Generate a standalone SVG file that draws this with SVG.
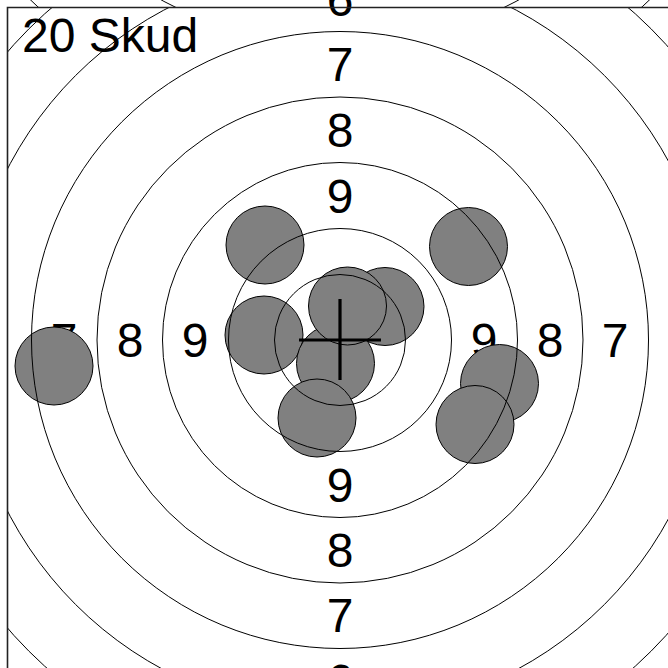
<svg xmlns="http://www.w3.org/2000/svg" width="668" height="668" viewBox="0 0 668 668">
<defs>
<style>
.lbl{font-family:"Liberation Sans",Arial,sans-serif;font-size:48px;fill:#000;text-anchor:middle}
.title{font-family:"Liberation Sans",Arial,sans-serif;font-size:48px;fill:#000}
.shot{fill:#808080;stroke:#000;stroke-width:1}
.ring{fill:none;stroke:#000;stroke-width:1}
.cross{stroke:#000;stroke-width:3.2;fill:none}
</style>
<clipPath id="topstrip"><rect x="0" y="0" width="668" height="7.5"/></clipPath>
<clipPath id="field"><rect x="7.5" y="7.5" width="661" height="661"/></clipPath>
</defs>
<rect width="668" height="668" fill="#fff"/>
<g id="labels">
<text class="title" x="22" y="52">20 Skud</text>
<text class="lbl" x="340" y="16">6</text>
<text class="lbl" x="340" y="81">7</text>
<text class="lbl" x="340" y="147">8</text>
<text class="lbl" x="340" y="213">9</text>
<text class="lbl" x="340" y="502">9</text>
<text class="lbl" x="340" y="567">8</text>
<text class="lbl" x="340" y="632">7</text>
<text class="lbl" x="340" y="698">6</text>
<text class="lbl" x="64" y="357">7</text>
<text class="lbl" x="130" y="357">8</text>
<text class="lbl" x="195" y="357">9</text>
<text class="lbl" x="484" y="357">9</text>
<text class="lbl" x="550" y="357">8</text>
<text class="lbl" x="615" y="357">7</text>
</g>
<g id="shots" clip-path="url(#field)">
<circle class="shot" cx="265" cy="245" r="39"/>
<circle class="shot" cx="468.5" cy="246.5" r="39"/>
<circle class="shot" cx="54" cy="366" r="39"/>
<circle class="shot" cx="264" cy="335" r="39"/>
<circle class="shot" cx="385" cy="306.5" r="39"/>
<circle class="shot" cx="335.5" cy="363.5" r="39"/>
<circle class="shot" cx="347.5" cy="306" r="39"/>
<circle class="shot" cx="317" cy="418" r="39"/>
<circle class="shot" cx="499.5" cy="383.5" r="39"/>
<circle class="shot" cx="475" cy="424.5" r="39"/>
</g>
<g id="rings" clip-path="url(#field)">
<circle class="ring" cx="340" cy="340" r="65.5"/>
<circle class="ring" cx="340" cy="340" r="111.5"/>
<circle class="ring" cx="340" cy="340" r="177.5"/>
<circle class="ring" cx="340" cy="340" r="243"/>
<circle class="ring" cx="340" cy="340" r="308.5"/>
<circle class="ring" cx="340" cy="340" r="374"/>
<circle class="ring" cx="340" cy="340" r="440"/>
<circle class="ring" cx="340" cy="340" r="505.5"/>
</g>
<g id="upper-target" clip-path="url(#topstrip)">
<circle class="ring" cx="340" cy="-328" r="373.5"/>
<circle class="ring" cx="340" cy="-328" r="451"/>
</g>
<g id="cross">
<line class="cross" x1="299" y1="340" x2="381" y2="340"/>
<line class="cross" x1="340" y1="299" x2="340" y2="380"/>
</g>
<g id="frame">
<path d="M7.5 668 V7.5 H668" fill="none" stroke="#222" stroke-width="1.6"/>
</g>
</svg>
